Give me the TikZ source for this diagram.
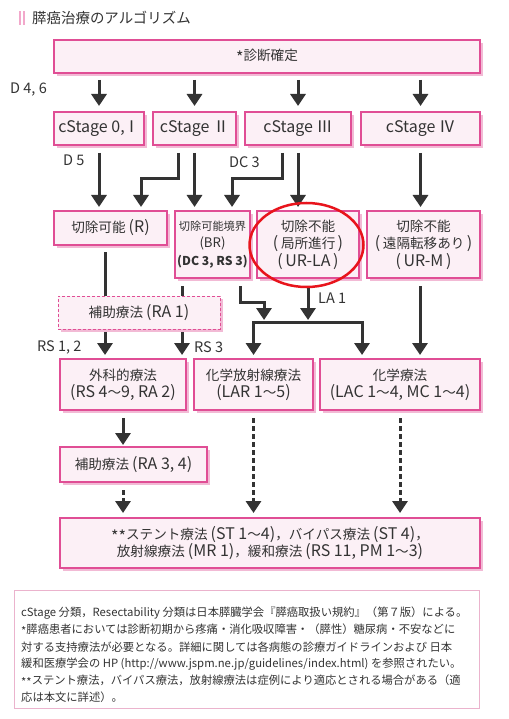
\documentclass[tikz,border=0pt]{standalone}
\usepackage{fontspec}
\setmainfont{Noto Sans CJK JP}
\newfontfamily\latfam{Noto Sans CJK JP}
\newfontfamily\cjkfam[Scale=0.85]{Noto Sans CJK JP}
% automatic switch: CJK characters set smaller than Latin ones
\newXeTeXintercharclass\cjkcls
\newcount\cjkcc
\cjkcc="3000
\loop \XeTeXcharclass\cjkcc=\cjkcls \ifnum\cjkcc<"9FFF \advance\cjkcc 1 \repeat
\cjkcc="FF00
\loop \XeTeXcharclass\cjkcc=\cjkcls \ifnum\cjkcc<"FFEF \advance\cjkcc 1 \repeat
\XeTeXinterchartoks 0 \cjkcls = {\cjkfam}
\XeTeXinterchartoks 4095 \cjkcls = {\cjkfam}
\XeTeXinterchartoks \cjkcls 0 = {\latfam}
\XeTeXinterchartoks 4095 0 = {\latfam}
\XeTeXinterchartokenstate=1
\newcommand\sast{\raisebox{-0.35ex}{*}}
\newcommand\notefont{\XeTeXinterchartokenstate=0\relax\fontsize{11.3}{11.3}\selectfont}
\usetikzlibrary{arrows.meta,shadows,calc,shapes.geometric}
\definecolor{pborder}{HTML}{E04E95}
\definecolor{pfill}{HTML}{FCF0F6}
\definecolor{pshadow}{HTML}{F2BAD5}
\definecolor{ink}{HTML}{333333}
\definecolor{pbar}{HTML}{F2A8CB}
\definecolor{pnote}{HTML}{EBB3CD}
\definecolor{hired}{HTML}{E8141C}
\begin{document}
\begin{tikzpicture}[x=1pt,y=-1pt,
  box/.style={draw=pborder, fill=pfill, line width=1.3pt, inner sep=0pt, outer sep=0pt,
    align=center, text=ink, font=\fontsize{16}{17}\selectfont,
    drop shadow={shadow xshift=3pt, shadow yshift=-3pt, fill=pshadow, opacity=1}},
  dbox/.style={box, dash pattern=on 3pt off 2pt, line width=1pt},
  lab/.style={inner sep=0pt, text=ink, font=\fontsize{14.5}{14.5}\selectfont, anchor=west},
  arr/.style={draw=ink, line width=3pt, -{Triangle[width=15pt,length=12pt]}},
  arrtwo/.style={draw=ink, line width=3pt, {Triangle[width=15pt,length=12pt]}-{Triangle[width=15pt,length=12pt]}},
  darr/.style={arr, dash pattern=on 5pt off 3pt},
  note/.style={inner sep=0pt, anchor=west, text=ink, font=\notefont}
]
\useasboundingbox (0,0) rectangle (508,719);
\fill[white] (0,0) rectangle (508,719);

% title
\fill[pbar] (18.5,11) rectangle (20.5,25);
\fill[pbar] (22.5,11) rectangle (24.5,25);
\node[anchor=west, inner sep=0pt, text=ink, font=\fontsize{17}{17}\selectfont] (title) at (32,17.5) {膵癌治療のアルゴリズム};

% boxes
\node[box, minimum width=426pt, minimum height=33pt] (top) at (267,56.5) {\sast 診断確定};
\node[box, minimum width=90pt, minimum height=33pt] (s0) at (99,128.5) {cStage 0,\kern-1pt Ⅰ};
\node[box, minimum width=83pt, minimum height=33pt] (s2) at (194.5,128.5) {cStage Ⅱ};
\node[box, minimum width=106pt, minimum height=33pt] (s3) at (298,128.5) {cStage Ⅲ};
\node[box, minimum width=119pt, minimum height=33pt] (s4) at (420.5,128.5) {cStage Ⅳ};

\node[box, minimum width=113pt, minimum height=34pt] (R) at (110.5,228) {切除可能 (R)};
\node[box, minimum width=75pt, minimum height=67pt, font=\fontsize{13.2}{17.5}\selectfont] (BR) at (212.5,244.5) {切除可能境界\\(BR)\\{\fontsize{12.2}{17.5}\selectfont\bfseries (DC 3, RS 3)}};
\node[box, minimum width=102pt, minimum height=67pt, font=\fontsize{16}{17.5}\selectfont] (URLA) at (308,244.5) {切除不能\\(\,局所進行\,)\\(\,UR-LA\,)};
\node[box, minimum width=113pt, minimum height=67pt, font=\fontsize{16}{17.5}\selectfont] (URM) at (423.5,244.5) {切除不能\\(\,遠隔転移あり\,)\\(\,UR-M\,)};

\node[box, minimum width=126pt, minimum height=51pt] (surg) at (123,384.5) {外科的療法\\(RS 4〜9, RA 2)};
\node[box, minimum width=119pt, minimum height=51pt] (crt) at (253.5,384.5) {化学放射線療法\\(LAR 1〜5)};
\node[box, minimum width=160pt, minimum height=51pt] (chemo) at (400,384.5) {化学療法\\(LAC 1〜4, MC 1〜4)};
\node[box, minimum width=147pt, minimum height=35pt] (ra34) at (133.5,464.5) {補助療法 (RA 3, 4)};
\node[box, minimum width=420pt, minimum height=50pt] (bot) at (270,543) {\sast\sast ステント療法 (ST 1〜4)，バイパス療法 (ST 4)，\\放射線療法 (MR 1)，緩和療法 (RS 11, PM 1〜3)};

% top -> stages
\draw[arr, shorten <=7pt, shorten >=6pt] (top.south -| s0) -- (s0.north);
\draw[arr, shorten <=7pt, shorten >=6pt] (top.south -| s2) -- (s2.north);
\draw[arr, shorten <=7pt, shorten >=6pt] (top.south -| s3) -- (s3.north);
\draw[arr, shorten <=7pt, shorten >=6pt] (top.south -| s4) -- (s4.north);

% stages -> resectability
\draw[arr, shorten <=8pt, shorten >=4pt] (s0.south) -- (s0.south |- R.north);
\draw[arr, shorten >=4pt] ([xshift=-16.5pt,yshift=-8pt]s2.south) -- ++(0,26) -| ($(R.north)+(30.5,0)$);
\draw[arr, shorten <=8pt, shorten >=4pt] (s2.south) -- (s2.south |- BR.north);
\draw[arr, shorten >=4pt] ([xshift=-16pt,yshift=-8pt]s3.south) -- ++(0,26) -| ($(BR.north)+(19.5,0)$);
\draw[arr, shorten <=8pt, shorten >=4pt] (s3.south) -- (s3.south |- URLA.north);
\draw[arr, shorten <=8pt, shorten >=4pt] (s4.south) -- (s4.south |- URM.north);

% resectable / borderline -> surgery (behind RA1)
\draw[arr, shorten <=7pt, shorten >=4pt] ([xshift=-5.5pt]R.south) -- ($(R.south |- surg.north)+(-5.5,0)$);
\draw[arr, shorten <=8pt, shorten >=4pt] ([xshift=-30.5pt]BR.south) -- ($(BR.south |- surg.north)+(-30.5,0)$);
\node[dbox, minimum width=162pt, minimum height=33pt] (RA1) at (139,312.5) {補助療法 (RA 1)};

% junction to CRT / chemo
\coordinate (junc) at ($(URLA.south)+(0,44)$);
\draw[arr, shorten >=2pt] ([xshift=27.5pt,yshift=-8pt]BR.south) -- ++(0,16) -| ($(crt.north |- junc)+(10.5,0)$);
\draw[arr, shorten <=8pt, shorten >=2pt] (URLA.south) -- (URLA.south |- junc);
\draw[arrtwo, shorten <=4pt, shorten >=4pt] (crt.north) |- ($(chemo.north |- junc)+(-38,0)$) -- ($(chemo.north)+(-38,0)$);
\draw[arr, shorten <=8pt, shorten >=4pt] ([xshift=-3.5pt]URM.south) -- ($(URM.south |- chemo.north)+(-3.5,0)$);

% lower part
\draw[arr, shorten <=8pt, shorten >=2pt] (surg.south) -- (surg.south |- ra34.north);
\draw[darr, shorten <=8pt, shorten >=5pt] (surg.south |- ra34.south) -- (surg.south |- bot.north);
\draw[darr, shorten <=8pt, shorten >=5pt] (crt.south) -- (crt.south |- bot.north);
\draw[darr, shorten <=8pt, shorten >=5pt] (chemo.south) -- (chemo.south |- bot.north);

% labels
\node[lab] (lD46) at (10,90) {D 4, 6};
\node[lab] (lD5) at (63,160) {D 5};
\node[lab] (lDC3) at (229,162) {DC 3};
\node[lab] (lLA1) at (318,298) {LA 1};
\node[lab] (lRS12) at (37,347) {RS 1, 2};
\node[lab] (lRS3) at (194,347) {RS 3};

% highlight
\node[draw=hired, line width=2.5pt, ellipse, minimum width=114pt, minimum height=84pt, inner sep=0pt] (hl) at (306.5,245) {};

% footnote
\node[draw=pnote, line width=0.8pt, minimum width=465pt, minimum height=118pt, inner sep=0pt] (notebox) at (246.5,649) {};
\node[note] (n1) at (21,613) {cStage 分類，Resectability 分類は日本膵臓学会『膵癌取扱い規約』（第７版）による。};
\node[note] (n2) at (21,630) {\sast 膵癌患者においては診断初期から疼痛・消化吸収障害・（膵性）糖尿病・不安などに};
\node[note] (n3) at (21,647) {対する支持療法が必要となる。詳細に関しては各病態の診療ガイドラインおよび 日本};
\node[note] (n4) at (21,664) {緩和医療学会の HP (http://www.jspm.ne.jp/guidelines/index.html) を参照されたい。};
\node[note] (n5) at (21,681) {\sast\sast ステント療法，バイパス療法，放射線療法は症例により適応とされる場合がある（適};
\node[note] (n6) at (21,697) {応は本文に詳述）。};
\end{tikzpicture}
\end{document}
